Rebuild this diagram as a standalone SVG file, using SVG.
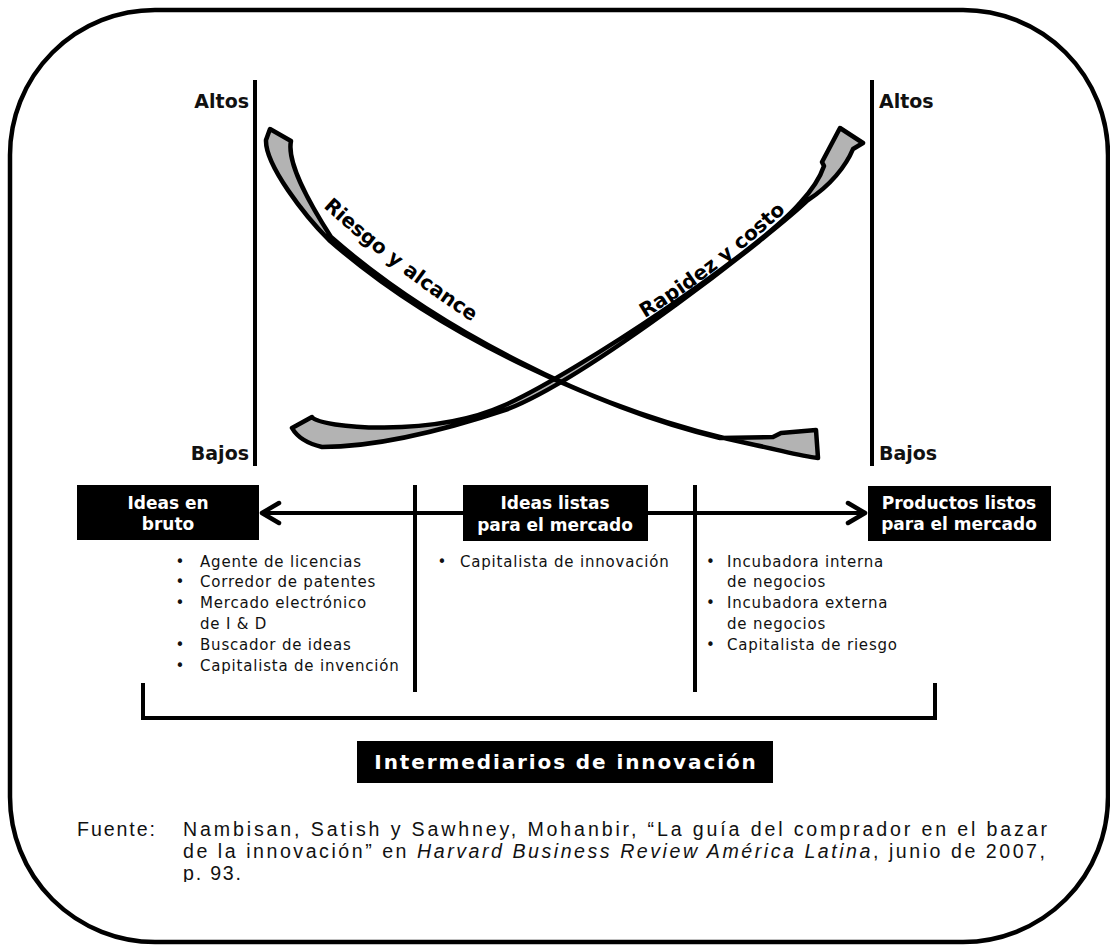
<svg xmlns="http://www.w3.org/2000/svg" width="1110" height="945" viewBox="0 0 1110 945">
  <defs>
    <style>
      .frame{fill:#fff;stroke:#000;stroke-width:4.5}
      .axis{stroke:#000;stroke-width:4;fill:none}
      .lbl{font-family:"DejaVu Sans",Verdana,sans-serif;font-weight:bold;font-size:19px;fill:#111}
      .curve{fill:#b3b3b3;stroke:#000;stroke-width:4.5;stroke-linejoin:round}
      .curvelbl{font-family:"DejaVu Sans",Verdana,sans-serif;font-weight:bold;font-size:20px;fill:#000}
      .box{fill:#000}
      .boxtxt{font-family:"DejaVu Sans",Verdana,sans-serif;font-weight:bold;font-size:17px;fill:#fff;text-anchor:middle}
      .item{font-family:"DejaVu Sans",Verdana,sans-serif;font-size:15px;fill:#111;letter-spacing:0.8px}
      .line{stroke:#000;stroke-width:4;fill:none}
      .head{stroke:#000;stroke-width:4.5;fill:none;stroke-linecap:round;stroke-linejoin:round}
      .title{font-family:"DejaVu Sans",Verdana,sans-serif;font-weight:bold;font-size:20px;fill:#fff;text-anchor:middle;letter-spacing:1.9px}
      .src{font-family:"Liberation Sans",Arial,sans-serif;font-size:19.6px;fill:#111}
    </style>
    <path id="p-riesgo" d="M323,207 Q392,270 480,327"/>
    <path id="p-rapidez" d="M645,318 Q715,276 792,206"/>
    <clipPath id="src-clip"><rect x="0" y="790" width="1110" height="92"/></clipPath>
  </defs>

  <!-- rounded outer frame -->
  <rect id="frame" class="frame" x="10" y="10" width="1098" height="932" rx="145" ry="145"/>

  <!-- level axes -->
  <g id="axis-left">
    <line class="axis" x1="255" y1="80" x2="255" y2="466"/>
    <text class="lbl" x="249" y="108" text-anchor="end">Altos</text>
    <text class="lbl" x="249" y="460" text-anchor="end">Bajos</text>
  </g>
  <g id="axis-right">
    <line class="axis" x1="872" y1="80" x2="872" y2="466"/>
    <text class="lbl" x="879" y="108">Altos</text>
    <text class="lbl" x="879" y="460">Bajos</text>
  </g>

  <!-- crossing trend arrows -->
  <g id="arrow-rapidez">
    <path class="curve" d="M292,428 L312,417 C320,428 432,438 505,405 C578,372 760,250 800,203 C812,190 820,178 824,166 L822,162 L840,128 L863,143 L853,149 C846,166 830,186 808,200 C775,232 590,377 508,409 C475,420 390,447 322,447 C305,443 296,435 292,428 Z"/>
    <text class="curvelbl"><textPath href="#p-rapidez">Rapidez y costo</textPath></text>
  </g>
  <g id="arrow-riesgo">
    <path class="curve" d="M270,129 L291,141 C286,165 315,212 331,237 C436,329 594,408 720,438 L773,437 L781,433 L816,430 L818,458 C800,456 780,450 755,445 C600,413 434,332 329,240 C305,216 265,165 266,140 Z"/>
    <text class="curvelbl"><textPath href="#p-riesgo">Riesgo y alcance</textPath></text>
  </g>

  <!-- connectors: flow line, dividers, bracket -->
  <g id="connectors">
    <line class="line" x1="264" y1="513" x2="862" y2="513"/>
    <polyline class="head" points="279,503 262,513 279,523"/>
    <polyline class="head" points="848,503 865,513 848,523"/>
    <line class="line" x1="415" y1="485" x2="415" y2="692"/>
    <line class="line" x1="695" y1="485" x2="695" y2="692"/>
    <path class="line" d="M143,683 V718 H935 V683"/>
  </g>

  <!-- stage nodes -->
  <g id="node-ideas-bruto">
    <rect class="box" x="77" y="485" width="182" height="55"/>
    <text class="boxtxt" x="168" y="509">Ideas en</text>
    <text class="boxtxt" x="168" y="530">bruto</text>
  </g>
  <g id="node-ideas-listas">
    <rect class="box" x="463" y="485" width="185" height="56"/>
    <text class="boxtxt" x="555" y="509">Ideas listas</text>
    <text class="boxtxt" x="555" y="531">para el mercado</text>
  </g>
  <g id="node-productos">
    <rect class="box" x="868" y="486" width="183" height="55"/>
    <text class="boxtxt" x="959" y="509">Productos listos</text>
    <text class="boxtxt" x="959" y="530">para el mercado</text>
  </g>

  <!-- intermediary lists -->
  <g id="list-bruto" class="item">
    <text x="175.5" y="566.5">•</text><text x="200" y="566.5">Agente de licencias</text>
    <text x="175.5" y="587.3">•</text><text x="200" y="587.3">Corredor de patentes</text>
    <text x="175.5" y="608.1">•</text><text x="200" y="608.1">Mercado electrónico</text>
    <text x="200" y="628.9">de I &amp; D</text>
    <text x="175.5" y="649.7">•</text><text x="200" y="649.7">Buscador de ideas</text>
    <text x="175.5" y="670.5">•</text><text x="200" y="670.5">Capitalista de invención</text>
  </g>
  <g id="list-listas" class="item">
    <text x="437.5" y="566.5">•</text><text x="460" y="566.5">Capitalista de innovación</text>
  </g>
  <g id="list-productos" class="item">
    <text x="706" y="566.5">•</text><text x="727" y="566.5">Incubadora interna</text>
    <text x="727" y="587.3">de negocios</text>
    <text x="706" y="608.1">•</text><text x="727" y="608.1">Incubadora externa</text>
    <text x="727" y="628.9">de negocios</text>
    <text x="706" y="649.7">•</text><text x="727" y="649.7">Capitalista de riesgo</text>
  </g>

  <!-- group label -->
  <g id="node-intermediarios">
    <rect class="box" x="357" y="741" width="416" height="42"/>
    <text class="title" x="566" y="769">Intermediarios de innovación</text>
  </g>

  <!-- source note -->
  <g id="source" class="src" clip-path="url(#src-clip)">
    <text x="77" y="836" textLength="78" lengthAdjust="spacing">Fuente:</text>
    <text x="183" y="836" textLength="864" lengthAdjust="spacing">Nambisan, Satish y Sawhney, Mohanbir, “La guía del comprador en el bazar</text>
    <text x="183" y="858" textLength="862" lengthAdjust="spacing">de la innovación” en <tspan font-style="italic">Harvard Business Review América Latina</tspan>, junio de 2007,</text>
    <text x="183" y="880" textLength="58" lengthAdjust="spacing">p. 93.</text>
  </g>
</svg>
